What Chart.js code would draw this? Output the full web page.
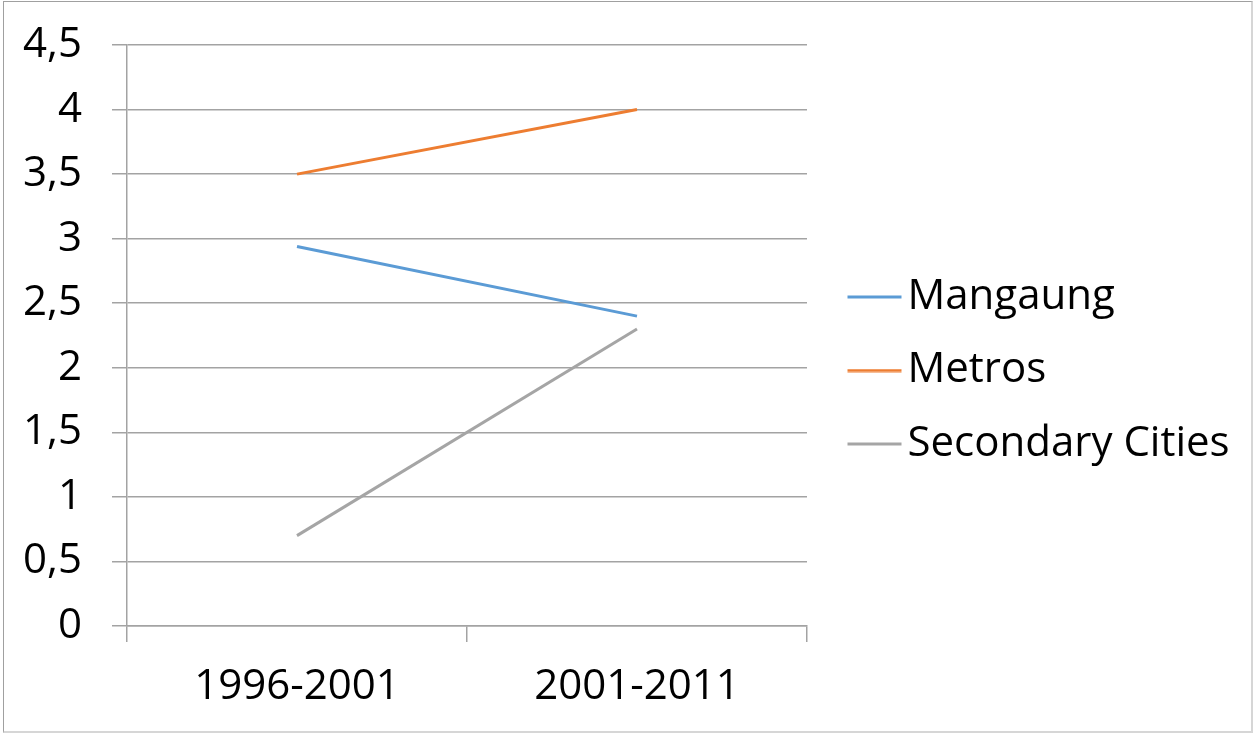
<!DOCTYPE html>
<html>
<head>
<meta charset="utf-8">
<script src="https://cdn.jsdelivr.net/npm/chart.js@4.4.1/dist/chart.umd.min.js"></script>
<style>
  html, body { margin: 0; padding: 0; background: #ffffff; }
  #wrap { position: relative; width: 1253px; height: 733px; }
  #frame {
    position: absolute; left: 3px; top: 1px; width: 1247px; height: 729px;
    border-left: 1px solid #a0a0a0; border-top: 1px solid #a0a0a0;
    border-right: 2px solid #d6d6d6; border-bottom: 2px solid #d6d6d6;
    pointer-events: none;
  }
  canvas { display: block; }
</style>
</head>
<body>
<div id="wrap">
  <canvas id="chart" width="1253" height="733"></canvas>
  <div id="frame"></div>
</div>
<script>
// Periods on the horizontal axis
const periods = ['1996-2001', '2001-2011'];

// Growth rate per group of municipalities
const mangaung = [2.94, 2.40];
const metros = [3.50, 4.00];
const secondaryCities = [0.70, 2.30];

// Labels on the value axis (comma as decimal separator)
const yTickLabels = ['0', '0,5', '1', '1,5', '2', '2,5', '3', '3,5', '4', '4,5'];

const seriesNames = ['Mangaung', 'Metros', 'Secondary Cities'];
const seriesColors = ['#5b9bd5', '#ed7d31', '#a5a5a5'];

const FONT = "'Open Sans', 'Liberation Sans', sans-serif";
const FONT_SIZE = 42;
const GRID = '#a3a3a3';

// Legend key: a short horizontal stroke, placed to sit just before the label text
const KEY_W = 48;            // legend "box" width reserved by Chart.js
const KEY_LINE = 54;         // visible stroke length
const KEY_GAP = 6;           // space between stroke and text
function legendKey(color) {
  const c = document.createElement('canvas');
  c.width = 2 * (KEY_LINE + KEY_GAP);
  c.height = 4;
  const g = c.getContext('2d');
  // canvas is centred on x + KEY_W/2; the text starts at x + KEY_W + FONT_SIZE/2
  const centre = c.width / 2;
  const textStart = centre + KEY_W / 2 + FONT_SIZE / 2;
  const end = textStart - KEY_GAP;
  g.strokeStyle = color;
  g.lineWidth = 3;
  g.beginPath();
  g.moveTo(end - KEY_LINE, 2);
  g.lineTo(end, 2);
  g.stroke();
  return c;
}

const seriesValues = [mangaung, metros, secondaryCities];
const datasets = seriesNames.map((name, i) => ({
  label: name,
  data: seriesValues[i],
  borderColor: seriesColors[i],
  backgroundColor: seriesColors[i],
  borderWidth: 3,
  pointRadius: 0,
  pointHoverRadius: 0,
  pointStyle: legendKey(seriesColors[i]),
  tension: 0,
  fill: false
}));

const PLOT_LEFT = 127;
const PLOT_RIGHT = 807;

const chart = new Chart(document.getElementById('chart'), {
  type: 'line',
  data: { labels: periods, datasets },
  options: {
    responsive: false,
    animation: false,
    events: [],
    layout: { padding: { top: 45, bottom: 14, left: 0, right: 0 } },
    plugins: {
      tooltip: { enabled: false },
      legend: {
        position: 'right',
        align: 'center',
        fullSize: false,
        maxWidth: 1253 - PLOT_RIGHT,
        // empty heading, only used as spacing above the entries
        title: { display: true, text: '', font: { size: 70, lineHeight: 1 }, padding: 0 },
        labels: {
          usePointStyle: true,
          pointStyleWidth: KEY_W,
          padding: 31.5,
          color: '#000000',
          font: { family: FONT, size: FONT_SIZE }
        }
      }
    },
    scales: {
      x: {
        type: 'category',
        offset: true,
        grid: {
          offset: true,
          drawOnChartArea: false,
          drawTicks: true,
          tickLength: 16,
          color: GRID,
          lineWidth: 1.5
        },
        border: { display: true, color: GRID, width: 1.5 },
        ticks: {
          color: '#000000',
          padding: 20,
          maxRotation: 0,
          font: { family: FONT, size: FONT_SIZE }
        },
        afterFit: (s) => { s.height = 93; }
      },
      y: {
        min: 0,
        max: 4.5,
        grid: { color: GRID, lineWidth: 1.5, tickLength: 15 },
        border: { display: true, color: GRID, width: 1.5 },
        ticks: {
          stepSize: 0.5,
          color: '#000000',
          padding: 30,
          font: { family: FONT, size: FONT_SIZE, lineHeight: 0.6 },
          callback: (v, i) => yTickLabels[i]
        },
        afterFit: (s) => { s.width = PLOT_LEFT; }
      }
    }
  }
});

// Legend takes whatever width remains right of the plot area
const pad = chart.options.layout.padding;
pad.right = Math.max(0, pad.right + chart.chartArea.right - PLOT_RIGHT);
chart.update('none');
</script>
</body>
</html>
